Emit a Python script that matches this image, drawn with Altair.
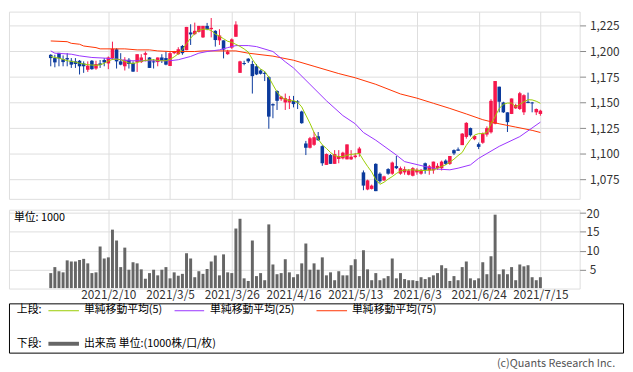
import altair as alt
import pandas as pd

# ---------------- data ----------------
tick_idx = [14, 29, 44, 59, 74, 89, 104, 119]
tick_labels = ["2021/2/10", "2021/3/5", "2021/3/26", "2021/4/16",
               "2021/5/13", "2021/6/3", "2021/6/24", "2021/7/15"]

opens = [1196.8, 1193.6, 1198.7, 1192.6, 1193.6, 1191.0, 1190.4, 1191.0, 1188.4, 1182.2,
         1191.0, 1183.4, 1188.4, 1191.7, 1188.4, 1193.6, 1202.2, 1190.4, 1185.6, 1192.0,
         1188.8, 1189.7, 1189.7, 1196.8, 1194.2, 1190.4, 1189.7, 1194.2, 1193.6, 1185.9,
         1198.4, 1197.4, 1205.4, 1201.3, 1218.6, 1217.0, 1219.2, 1213.8, 1225.0, 1221.8,
         1220.2, 1210.9, 1210.9, 1197.4, 1203.8, 1214.4, 1179.2, 1188.8, 1193.0, 1187.8,
         1185.6, 1181.4, 1179.2, 1175.0, 1148.7, 1161.5, 1153.5, 1150.3, 1150.3, 1151.9,
         1151.3, 1141.5, 1110.3, 1106.1, 1109.0, 1117.3, 1107.7, 1089.4, 1099.0, 1090.4,
         1095.2, 1095.8, 1094.8, 1094.8, 1097.0, 1100.6, 1082.1, 1065.4, 1066.0, 1090.4,
         1080.8, 1074.3, 1085.3, 1080.8, 1088.2, 1080.8, 1082.1, 1079.8, 1078.8, 1082.1,
         1080.8, 1091.0, 1084.0, 1084.0, 1086.2, 1086.2, 1093.6, 1090.4, 1103.8, 1104.5,
         1108.7, 1116.7, 1125.3, 1114.4, 1109.6, 1111.0, 1119.0, 1121.2, 1129.5, 1165.7,
         1150.3, 1140.7, 1139.1, 1144.6, 1143.9, 1140.7, 1151.0, 1150.3, 1140.7, 1139.1]
highs = [1197.4, 1196.8, 1198.7, 1196.2, 1198.4, 1193.6, 1193.6, 1191.7, 1190.4, 1190.4,
         1191.7, 1191.0, 1191.7, 1193.6, 1195.2, 1209.6, 1203.2, 1198.4, 1194.5, 1193.6,
         1190.4, 1197.4, 1197.4, 1200.0, 1194.5, 1192.6, 1194.2, 1197.4, 1200.0, 1200.0,
         1200.6, 1204.2, 1206.4, 1224.0, 1226.6, 1228.2, 1225.0, 1225.0, 1227.9, 1232.7,
         1220.8, 1221.8, 1210.9, 1201.6, 1212.8, 1229.5, 1191.0, 1191.0, 1193.6, 1191.0,
         1187.8, 1182.5, 1180.8, 1176.0, 1149.4, 1162.2, 1156.7, 1159.0, 1156.7, 1156.7,
         1152.6, 1142.3, 1112.8, 1116.7, 1121.5, 1121.5, 1108.7, 1100.6, 1100.0, 1103.8,
         1103.8, 1102.2, 1109.4, 1103.8, 1101.0, 1107.0, 1084.0, 1075.0, 1070.2, 1091.0,
         1082.1, 1078.8, 1086.2, 1092.6, 1098.1, 1087.8, 1087.8, 1085.3, 1087.2, 1086.2,
         1085.3, 1091.7, 1089.4, 1092.6, 1091.0, 1093.6, 1094.8, 1098.1, 1104.5, 1106.4,
         1120.5, 1131.1, 1125.8, 1118.3, 1111.2, 1121.0, 1127.0, 1153.5, 1171.2, 1165.7,
         1151.0, 1140.7, 1154.2, 1149.0, 1160.6, 1158.3, 1159.9, 1150.8, 1144.5, 1143.2]
lows = [1185.6, 1184.6, 1185.6, 1185.6, 1185.6, 1184.0, 1184.0, 1177.6, 1179.2, 1180.1,
        1182.2, 1182.2, 1184.0, 1185.6, 1182.8, 1192.0, 1183.4, 1186.6, 1181.5, 1183.4,
        1180.1, 1180.1, 1188.8, 1190.4, 1184.0, 1183.4, 1185.6, 1188.8, 1186.6, 1185.9,
        1197.4, 1196.8, 1196.8, 1201.3, 1206.4, 1216.0, 1218.6, 1213.2, 1220.8, 1213.8,
        1204.8, 1206.4, 1193.3, 1196.8, 1202.6, 1214.4, 1179.2, 1186.6, 1188.8, 1159.0,
        1177.0, 1177.6, 1171.2, 1124.7, 1134.9, 1143.0, 1151.9, 1143.0, 1143.9, 1145.5,
        1143.9, 1129.5, 1099.0, 1105.4, 1108.0, 1112.8, 1088.5, 1089.4, 1090.4, 1090.4,
        1091.0, 1094.8, 1094.8, 1094.2, 1095.8, 1097.4, 1064.7, 1064.7, 1065.4, 1063.8,
        1071.8, 1073.7, 1079.8, 1079.8, 1085.3, 1079.8, 1079.8, 1079.2, 1078.2, 1079.8,
        1079.8, 1080.8, 1079.8, 1080.8, 1084.6, 1084.0, 1089.4, 1089.4, 1099.0, 1103.2,
        1108.7, 1115.0, 1117.0, 1113.5, 1104.8, 1110.0, 1117.0, 1120.0, 1129.0, 1140.7,
        1140.0, 1121.5, 1139.0, 1144.0, 1143.0, 1138.1, 1149.7, 1140.7, 1138.0, 1137.4]
closes = [1193.6, 1189.4, 1193.3, 1189.7, 1192.3, 1187.2, 1187.8, 1185.6, 1185.6, 1186.2,
          1182.8, 1187.8, 1186.8, 1189.4, 1194.2, 1202.6, 1190.4, 1187.2, 1192.0, 1187.8,
          1180.4, 1197.4, 1194.2, 1198.4, 1184.0, 1189.4, 1194.2, 1191.0, 1187.2, 1198.4,
          1200.0, 1202.2, 1198.4, 1224.0, 1216.7, 1220.2, 1225.0, 1225.0, 1221.8, 1223.1,
          1211.2, 1215.7, 1201.9, 1200.0, 1211.9, 1226.3, 1190.4, 1187.8, 1190.4, 1176.0,
          1177.6, 1178.2, 1178.2, 1136.5, 1147.4, 1151.9, 1156.0, 1154.5, 1153.5, 1148.7,
          1150.3, 1130.1, 1106.1, 1115.4, 1116.4, 1113.5, 1091.0, 1100.0, 1090.4, 1100.0,
          1098.1, 1101.3, 1109.4, 1097.4, 1098.5, 1105.4, 1069.2, 1074.3, 1069.2, 1063.8,
          1073.4, 1078.2, 1080.8, 1091.7, 1086.2, 1086.2, 1085.3, 1084.0, 1086.2, 1084.6,
          1084.6, 1084.6, 1088.0, 1092.6, 1088.5, 1092.6, 1090.4, 1098.1, 1100.6, 1103.2,
          1119.9, 1130.4, 1118.3, 1117.6, 1107.0, 1120.0, 1125.3, 1151.9, 1171.2, 1151.0,
          1140.7, 1131.1, 1154.2, 1147.8, 1159.3, 1157.4, 1149.7, 1149.4, 1143.9, 1142.3]
volumes = [4.0, 5.6, 4.5, 4.2, 7.4, 7.1, 7.1, 7.5, 7.8, 6.6,
           4.0, 4.2, 11.1, 7.9, 8.2, 15.6, 12.7, 5.6, 10.8, 4.9,
           6.9, 6.6, 5.0, 2.5, 4.0, 4.9, 3.4, 4.9, 5.6, 2.6,
           4.2, 3.3, 3.8, 9.3, 7.9, 2.9, 4.5, 3.8, 5.1, 7.1,
           8.7, 3.4, 9.0, 4.2, 4.0, 15.9, 18.5, 2.6, 1.9, 12.7,
           3.2, 4.0, 2.1, 17.0, 6.3, 3.7, 4.0, 7.7, 4.2, 2.9,
           3.7, 6.6, 11.9, 4.9, 6.6, 4.9, 8.2, 3.4, 4.2, 2.1,
           4.5, 3.4, 3.4, 6.1, 7.7, 3.2, 10.1, 5.0, 2.1, 4.0,
           2.1, 2.6, 3.2, 7.9, 2.6, 4.0, 2.4, 2.1, 2.1, 1.9,
           2.9, 2.4, 2.9, 3.4, 4.0, 6.1, 5.3, 1.9, 3.2, 2.1,
           5.6, 7.1, 2.6, 2.1, 2.6, 6.9, 3.7, 8.5, 19.6, 3.7,
           5.0, 3.7, 5.6, 2.1, 6.3, 5.8, 6.1, 2.9, 2.1, 2.9]
sma5 = [1195.2, 1194.2, 1193.6, 1192.3, 1191.0, 1190.4, 1189.7, 1188.6, 1187.8, 1187.2,
        1186.8, 1186.5, 1187.0, 1188.5, 1190.8, 1192.3, 1192.6, 1192.0, 1190.4, 1188.8,
        1188.4, 1189.2, 1190.6, 1191.3, 1191.8, 1192.0, 1191.3, 1191.0, 1191.0, 1192.3,
        1194.8, 1197.8, 1202.0, 1207.7, 1213.0, 1217.6, 1220.8, 1221.8, 1221.8, 1220.5,
        1217.0, 1215.0, 1212.5, 1210.0, 1209.0, 1207.0, 1205.0, 1202.5, 1199.5, 1192.5,
        1186.6, 1183.0, 1180.5, 1175.0, 1167.5, 1160.5, 1155.5, 1153.5, 1152.0, 1152.0,
        1150.5, 1146.0, 1138.0, 1130.0, 1121.0, 1114.5, 1109.0, 1105.5, 1101.5, 1098.5,
        1097.4, 1097.6, 1098.8, 1099.7, 1100.0, 1100.6, 1094.0, 1088.0, 1082.5, 1075.0,
        1070.5, 1072.5, 1075.5, 1078.0, 1081.0, 1083.5, 1084.3, 1084.5, 1084.6, 1084.2,
        1083.8, 1084.0, 1084.3, 1084.5, 1086.0, 1088.0, 1089.5, 1092.0, 1095.0, 1098.5,
        1101.5, 1108.5, 1114.0, 1118.5, 1119.9, 1119.9, 1121.0, 1129.5, 1136.5, 1144.5,
        1148.5, 1149.7, 1149.7, 1146.0, 1148.5, 1151.0, 1153.0, 1152.8, 1151.5, 1149.5]
sma25_idx = [0, 1, 5, 7, 10, 13, 15, 19, 29, 31, 34, 36, 38, 41, 43, 45, 48, 50, 54,
             57, 59, 63, 67, 71, 74, 76, 79, 84, 86, 91, 94, 97, 99, 102, 104, 109, 114, 119]
sma25 = [1200.6, 1198.4, 1197.4, 1195.8, 1194.2, 1193.6, 1193.0, 1191.0, 1191.0, 1192.0,
         1195.2, 1198.4, 1200.0, 1201.6, 1203.8, 1205.8, 1205.8, 1204.8, 1200.0,
         1190.0, 1184.0, 1168.0, 1152.0, 1137.5, 1129.5, 1121.0, 1113.5, 1099.0, 1092.6,
         1087.8, 1085.3, 1084.6, 1086.2, 1089.4, 1095.8, 1107.5, 1117.0, 1131.1]
sma75_idx = [0, 4, 5, 7, 8, 11, 12, 18, 21, 24, 26, 29, 35, 37, 45, 48, 54, 59, 64,
             70, 74, 79, 85, 89, 93, 97, 101, 105, 109, 113, 117, 119]
sma75 = [1210.3, 1209.6, 1208.0, 1207.1, 1205.4, 1203.8, 1202.6, 1202.6, 1201.6, 1201.6,
         1200.6, 1200.0, 1200.0, 1200.6, 1200.6, 1198.4, 1195.5, 1191.5, 1185.6,
         1178.5, 1174.4, 1168.0, 1158.6, 1154.5, 1149.5, 1144.5, 1139.1, 1133.5, 1129.5,
         1126.3, 1123.1, 1121.0]

price_ticks = [1075, 1100, 1125, 1150, 1175, 1200, 1225]
vol_ticks = [5, 10, 15, 20]

# ---------------- styling ----------------
FONT = "Noto Sans CJK JP"
GRID = "#9a9a9a"
RED = "#f5174c"
BLUE = "#0b3a9c"
C5, C25, C75 = "#99cc00", "#9933ff", "#ff3300"
VOLC = "#666666"
TXT = "#333333"

candles = pd.DataFrame({"i": list(range(len(opens))), "open": opens, "high": highs,
                        "low": lows, "close": closes, "vol": volumes, "sma5": sma5})
ma25 = pd.DataFrame({"i": sma25_idx, "v": sma25})
ma75 = pd.DataFrame({"i": sma75_idx, "v": sma75})

xscale = alt.Scale(domain=[-8.95, 127.35], nice=False, zero=False)
pscale = alt.Scale(domain=[1056.25, 1238.94], nice=False, zero=False)
vscale = alt.Scale(domain=[-0.13, 20.92], nice=False, zero=False)

x_axis_price = alt.Axis(values=tick_idx, grid=True, labels=False, ticks=False,
                        domain=False, title=None, labelOverlap=False)
label_expr = "".join(f"datum.value == {v} ? '{l}' : " for v, l in zip(tick_idx, tick_labels)) + "''"
x_axis_vol = alt.Axis(values=tick_idx, grid=True, labels=True, ticks=False, tickSize=0,
                      domain=False, title=None, labelExpr=label_expr,
                      labelFontSize=12, labelPadding=1, labelColor=TXT,
                      labelFont=FONT, labelFlush=False, labelOverlap=False)
y_axis_price = alt.Axis(orient="right", values=price_ticks, format=",d", grid=True,
                        tickSize=6, labelPadding=4, domain=False, title=None,
                        labelFontSize=12, labelColor=TXT, labelFont=FONT,
                        labelOverlap=False, labelBound=False)
y_axis_vol = alt.Axis(orient="right", values=vol_ticks, grid=True, tickSize=6,
                      labelPadding=7, labelAlign="center", domain=False, title=None,
                      labelFontSize=12, labelColor=TXT, labelFont=FONT,
                      labelOverlap=False, labelBound=False)

up = alt.datum.close >= alt.datum.open
candle_color = alt.when(up).then(alt.value(RED)).otherwise(alt.value(BLUE))

base = alt.Chart(candles)
wicks = base.mark_rule(strokeWidth=1).encode(
    x=alt.X("i:Q", scale=xscale, axis=x_axis_price),
    y=alt.Y("low:Q", scale=pscale, axis=y_axis_price),
    y2="high:Q",
    color=candle_color,
)
bodies = base.mark_bar(size=3.6).encode(
    x=alt.X("i:Q", scale=xscale, axis=x_axis_price),
    y=alt.Y("open:Q", scale=pscale, axis=y_axis_price),
    y2="close:Q", color=candle_color)
line75 = alt.Chart(ma75).mark_line(color=C75, strokeWidth=1).encode(
    x=alt.X("i:Q", scale=xscale, axis=x_axis_price),
    y=alt.Y("v:Q", scale=pscale, axis=y_axis_price))
line25 = alt.Chart(ma25).mark_line(color=C25, strokeWidth=1).encode(
    x=alt.X("i:Q", scale=xscale, axis=x_axis_price),
    y=alt.Y("v:Q", scale=pscale, axis=y_axis_price))
line5 = base.mark_line(color=C5, strokeWidth=1).encode(
    x=alt.X("i:Q", scale=xscale, axis=x_axis_price),
    y=alt.Y("sma5:Q", scale=pscale, axis=y_axis_price))

price = alt.layer(wicks, bodies, line75, line25, line5).properties(width=579, height=190)

vol_bars = base.mark_bar(size=3, color=VOLC).encode(
    x=alt.X("i:Q", scale=xscale, axis=x_axis_vol),
    y=alt.Y("vol:Q", scale=vscale, axis=y_axis_vol),
)

one = pd.DataFrame({"k": [0]})


def txt(s, x, y, align="left", color="#000000", size=11):
    return alt.Chart(one).mark_text(text=s, align=align, baseline="middle", font=FONT,
                                    fontSize=size, color=color).encode(
        x=alt.value(x), y=alt.value(y))


def seg(x1, x2, y, color, w=1):
    return alt.Chart(one).mark_rule(color=color, strokeWidth=w).encode(
        x=alt.value(x1), x2=alt.value(x2), y=alt.value(y))


legend_box = alt.Chart(one).mark_rect(fillOpacity=0, stroke="#000000", strokeWidth=1).encode(
    x=alt.value(0.5), x2=alt.value(623.5), y=alt.value(95.5), y2=alt.value(145.5))

legend_items = [
    legend_box,
    txt("単位: 1000", 5, 8),
    txt("上段:", 8, 102),
    seg(40, 71, 102.5, C5),
    txt("単純移動平均(5)", 76, 102),
    seg(168, 198, 102.5, C25),
    txt("単純移動平均(25)", 204, 102),
    seg(312, 343, 102.5, C75),
    txt("単純移動平均(75)", 348, 102),
    txt("下段:", 8, 136),
    seg(40, 71, 136, VOLC, 4),
    txt("出来高 単位:(1000株/口/枚)", 76, 136),
    txt("(c)Quants Research Inc.", 615, 157, align="right", color="#555555"),
]

volume = alt.layer(vol_bars, *legend_items).properties(width=579, height=80)

chart = alt.vconcat(price, volume, spacing=11, bounds="flush", padding=0).configure_view(
    stroke=GRID, strokeWidth=1
).configure_axis(
    gridColor=GRID, gridWidth=1, tickColor=GRID, tickWidth=1
).configure(font=FONT)

chart.save("out.html", embed_options={"renderer": "svg", "actions": False})
